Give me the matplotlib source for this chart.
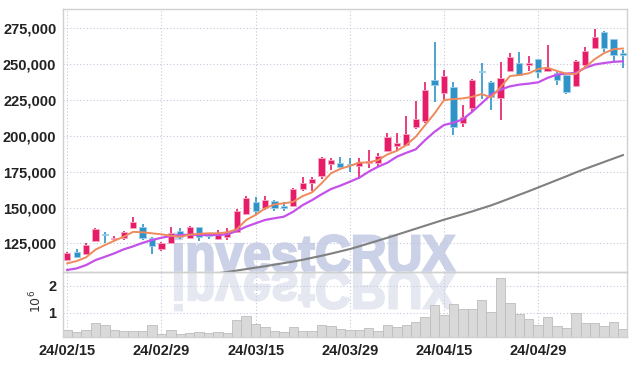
import numpy as np
import matplotlib
matplotlib.use("Agg")
import matplotlib.pyplot as plt
from matplotlib.textpath import TextPath
from matplotlib.patches import PathPatch
from matplotlib.font_manager import FontProperties
from matplotlib.transforms import Affine2D, IdentityTransform
from matplotlib.ticker import FuncFormatter

# trading days shown on the chart
dates = ["24/02/15", "24/02/16", "24/02/19", "24/02/20", "24/02/21", "24/02/22", "24/02/23",
         "24/02/26", "24/02/27", "24/02/28", "24/02/29",
         "24/03/04", "24/03/05", "24/03/06", "24/03/07", "24/03/08", "24/03/11", "24/03/12",
         "24/03/13", "24/03/14", "24/03/15", "24/03/18", "24/03/19", "24/03/20", "24/03/21",
         "24/03/22", "24/03/25", "24/03/26", "24/03/27", "24/03/28", "24/03/29",
         "24/04/01", "24/04/02", "24/04/03", "24/04/04", "24/04/05", "24/04/08", "24/04/09",
         "24/04/11", "24/04/12", "24/04/15", "24/04/16", "24/04/17", "24/04/18", "24/04/19",
         "24/04/22", "24/04/23", "24/04/24", "24/04/25", "24/04/26", "24/04/29", "24/04/30",
         "24/05/02", "24/05/03", "24/05/07", "24/05/08", "24/05/09", "24/05/10", "24/05/13",
         "24/05/14"]

opens = [113300, 119100, 117500, 126800, 131200, 128000, 128500, 135500, 136200, 128900,
         121000, 125000, 133600, 129000, 136200, 131600, 127800, 129200, 132600, 145500,
         154000, 149400, 154700, 151000, 151200, 162900, 167300, 172200, 180100, 181300,
         180300, 179000, 180800, 181300, 189600, 192900, 193600, 206400, 210600, 239300,
         230000, 233900, 208800, 219500, 245000, 237900, 226200, 245200, 250900, 249200,
         253700, 245500, 243900, 242200, 234800, 249200, 261600, 272600, 267600, 257600]
highs = [119100, 121000, 125000, 135500, 132600, 130100, 133300, 143600, 138300, 129600,
         125700, 136600, 135500, 137100, 136600, 132300, 134000, 135500, 148700, 158000,
         157100, 158000, 155300, 153800, 163400, 171500, 171500, 185000, 184300, 185000,
         184800, 184300, 190100, 188200, 202200, 202200, 214100, 224500, 237400, 265300,
         245800, 237400, 221500, 239800, 251000, 238500, 251500, 257600, 258800, 255900,
         254000, 263400, 244500, 242800, 253000, 262300, 274500, 272900, 268000, 260000]
lows = [112600, 114500, 116800, 125700, 125200, 126800, 127500, 134800, 127300, 117500,
        119800, 124300, 127800, 128000, 126800, 128000, 127000, 127500, 132100, 144800,
        144800, 148200, 147800, 147800, 150500, 161700, 161500, 169900, 176200, 177800,
        175000, 169900, 177400, 178500, 188900, 189600, 193200, 205000, 209200, 223800,
        225300, 200600, 206400, 216700, 226000, 218000, 211000, 244600, 241500, 245400,
        240200, 244700, 235800, 229400, 234300, 247800, 260700, 258800, 252000, 247300]
closes = [118000, 115600, 123800, 134800, 130700, 128800, 132600, 139700, 128800, 123300,
          125000, 132000, 129600, 136200, 129200, 130000, 132000, 132600, 147800, 156800,
          147800, 155200, 149400, 149600, 162900, 167300, 169900, 184300, 183100, 178500,
          179600, 182000, 182400, 185900, 199400, 194800, 201300, 211500, 232000, 235300,
          242100, 206400, 213000, 239300, 244400, 227000, 240200, 255300, 242200, 250900,
          244400, 247100, 239300, 230400, 252300, 259300, 268800, 261600, 256700, 256400]

ma_short = [111000, 112600, 115200, 120600, 123800, 126800, 129600, 133000, 132700, 132000,
            131300, 130300, 129600, 131000, 131700, 132000, 132000, 132700, 134800, 141300,
            144800, 149400, 152200, 152900, 154000, 158000, 160600, 166900, 173900, 177000,
            179000, 181300, 181500, 183100, 187100, 189600, 193600, 199400, 207600, 215700,
            225000, 225700, 226200, 227300, 229200, 226900, 234000, 241800, 242500, 243700,
            246700, 247600, 245300, 243400, 243300, 248000, 253500, 257800, 260500, 261000]
ma_mid = [106400, 107500, 109800, 113300, 115600, 118000, 120800, 122900, 125300, 127300,
          128900, 130100, 130800, 131000, 130800, 130800, 130800, 131300, 133600, 136600,
          139000, 141300, 142500, 143600, 147100, 151700, 155200, 159200, 162900, 165300,
          168000, 170800, 175000, 178500, 181300, 185500, 188200, 190600, 197100, 202900,
          207600, 209200, 211600, 216900, 222800, 228800, 232300, 234600, 235800, 236500,
          237400, 240500, 242800, 243500, 244000, 247500, 249800, 250900, 251700, 252100]
ma_long = [np.nan] * 14 + [
          102500, 103300, 104100, 105000, 106000, 107000,
          108000, 109000, 110100, 111200, 112300, 113500, 114900, 116300, 117800, 119400,
          121000, 122900, 124900, 126900, 128900, 131000, 133100, 135200, 137300, 139400,
          141500, 143400, 145300, 147300, 149400, 151500, 153900, 156400, 158900, 161400,
          164000, 166600, 169200, 171800, 174500, 177000, 179400, 181800, 184200, 186600]

volumes = [0.34, 0.26, 0.34, 0.63, 0.53, 0.34, 0.30, 0.33, 0.33, 0.55,
           0.21, 0.37, 0.19, 0.23, 0.26, 0.23, 0.26, 0.23, 0.72, 0.86,
           0.59, 0.45, 0.33, 0.26, 0.48, 0.30, 0.30, 0.53, 0.49, 0.40,
           0.37, 0.37, 0.44, 0.33, 0.53, 0.45, 0.55, 0.64, 0.82, 1.28,
           0.91, 1.32, 1.12, 1.12, 1.47, 1.01, 2.31, 1.35, 0.94, 0.75,
           0.53, 0.82, 0.49, 0.44, 0.97, 0.63, 0.63, 0.49, 0.67, 0.40]

price_ticks = [125000, 150000, 175000, 200000, 225000, 250000, 275000]
date_ticks = [0, 10, 20, 30, 40, 50]

RED = "#e61c68"
BLUE = "#2f93c8"
GRID = "#c4c8dc"
FRAME = "#d0d0d0"
label_font = ["Liberation Sans Narrow", "Liberation Sans", "DejaVu Sans"]

x = np.arange(len(dates))
o = np.array(opens)
c = np.array(closes)
up = c >= o
colors = np.where(up, RED, BLUE)
edges = np.where(up, "#f6a9c6", "#9fd0ea")

fig = plt.figure(figsize=(6.36, 3.66), dpi=100)
fig.patch.set_facecolor("white")
ax = fig.add_axes([0.0995, 0.2577, 0.8859, 0.7177])
axv = fig.add_axes([0.0995, 0.0784, 0.8859, 0.1793], sharex=ax)
for a in (ax, axv):
    a.set_facecolor("none")
    a.grid(True, color=GRID, linestyle=(0, (1, 2)), linewidth=0.8)
    a.set_axisbelow(True)
    for s in a.spines.values():
        s.set_color(FRAME)
        s.set_linewidth(1.0)
    a.tick_params(length=0, colors="#222222")

# watermark and its reflection, drawn in pixel space behind the axes
wm = TextPath((0, 0), "investCRUX", size=50, prop=FontProperties(family="Liberation Sans", weight="bold"))
ext = wm.get_extents()
sc = 280.0 / ext.width
fig_h = 366
base = fig_h - 271.5
t_main = Affine2D().translate(-ext.x0, 0).scale(sc, sc * 1.05).translate(175, base)
t_refl = Affine2D().translate(-ext.x0, 0).scale(sc, -sc * 1.05).translate(175, base - 1)
fig.add_artist(PathPatch(t_main.transform_path(wm), facecolor="#cbd1e6", edgecolor="#cbd1e6",
                         linewidth=1.6, transform=IdentityTransform(), zorder=-1))
fig.add_artist(PathPatch(t_refl.transform_path(wm), facecolor="#e5e7f1", edgecolor="#e5e7f1",
                         linewidth=1.6, transform=IdentityTransform(), zorder=-1))

# candles
ax.vlines(x, lows, highs, colors=colors, linewidth=1.2, zorder=2)
heights = np.maximum(np.abs(c - o), 500)
ax.bar(x, heights, bottom=np.minimum(o, c), width=0.66, color=colors,
       edgecolor=edges, linewidth=0.6, zorder=3)

ax.plot(x, ma_long, color="#808080", linewidth=1.5, zorder=4)
ax.plot(x, ma_mid, color="#c452ea", linewidth=1.6, zorder=4)
ax.plot(x, ma_short, color="#ef8a5c", linewidth=1.4, zorder=5)

ax.set_xlim(-0.42, 59.4)
ax.set_ylim(105200, 288600)
ax.set_yticks(price_ticks)
ax.yaxis.set_major_formatter(FuncFormatter(lambda v, p: f"{v:,.0f}"))
ax.tick_params(labelbottom=False, pad=5)
for lab in ax.get_yticklabels():
    lab.set_family(label_font)
    lab.set_fontweight("bold")
    lab.set_fontsize(10.5)

# volume panel
axv.bar(x, volumes, width=1.0, color="#d9d9d9", edgecolor="#bdbdbd", linewidth=0.6, zorder=2)
axv.set_ylim(0.08, 2.53)
axv.set_yticks([1, 2])
axv.set_yticklabels(["1", "2"])
axv.set_xticks(date_ticks)
axv.set_xticklabels([dates[i] for i in date_ticks])
axv.tick_params(pad=5)
for lab in axv.get_yticklabels() + axv.get_xticklabels():
    lab.set_family(label_font)
    lab.set_fontweight("bold")
    lab.set_fontsize(10.5)
fig.text(0.057, 0.175, r"$10^6$", rotation=90, ha="center", va="center", fontsize=9, color="#333333")

fig.savefig("out.png", dpi=100)
